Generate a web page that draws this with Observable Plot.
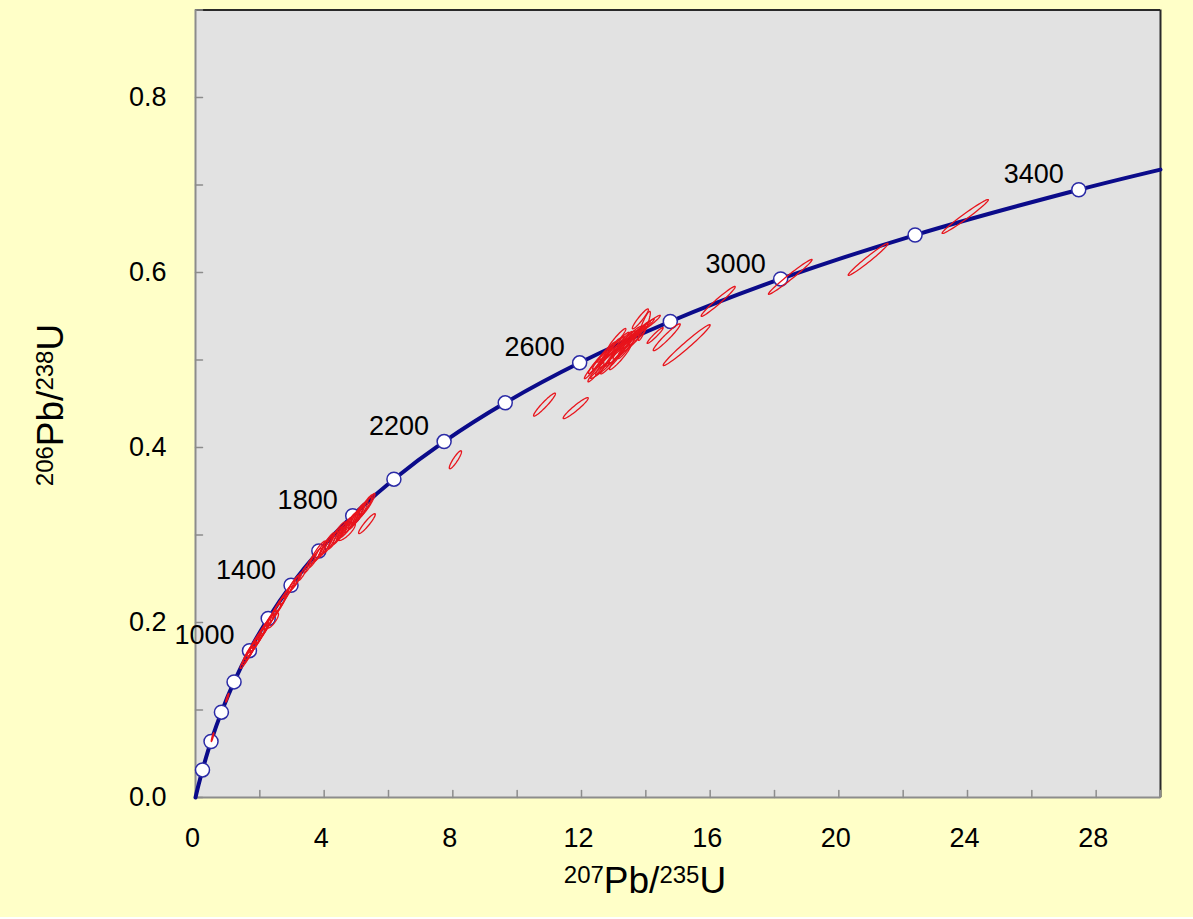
<!DOCTYPE html>
<html>
<head>
<meta charset="utf-8">
<script src="https://cdn.jsdelivr.net/npm/d3@7"></script>
<script src="https://cdn.jsdelivr.net/npm/@observablehq/plot@0.6"></script>
<style>
  body { margin: 0; background: #ffffff; }
  #chart svg { display: block; }
</style>
</head>
<body>
<div id="chart"></div>
<script>
// ---- Axis ticks ----
const xMajorTicks = [0, 4, 8, 12, 16, 20, 24, 28];
const xAllTicks = [0, 2, 4, 6, 8, 10, 12, 14, 16, 18, 20, 22, 24, 26, 28, 30];
const yMajorTicks = [0.0, 0.2, 0.4, 0.6, 0.8];
const yAllTicks = [0.0, 0.1, 0.2, 0.3, 0.4, 0.5, 0.6, 0.7, 0.8, 0.9];

// ---- Concordia curve (207Pb/235U, 206Pb/238U) ----
const curveX = [0, 0.1035, 0.2177, 0.4828, 0.8056, 1.1987, 1.6774, 2.2603, 2.9701, 3.8344, 4.8868, 6.1684, 7.7290, 9.629, 11.943, 14.761, 18.192, 22.371, 27.459, 30.0];
const curveY = [0, 0.01563, 0.03151, 0.06402, 0.09754, 0.13214, 0.16782, 0.20460, 0.24258, 0.28172, 0.32211, 0.36378, 0.40674, 0.45107, 0.49678, 0.54398, 0.59264, 0.64281, 0.69458, 0.7176];

// ---- Age markers (Ma) ----
const markerAge = [200, 400, 600, 800, 1000, 1200, 1400, 1600, 1800, 2000, 2200, 2400, 2600, 2800, 3000, 3200, 3400];
const markerX = [0.2177, 0.4828, 0.8056, 1.1987, 1.6774, 2.2603, 2.9701, 3.8344, 4.8868, 6.1684, 7.7290, 9.629, 11.943, 14.761, 18.192, 22.371, 27.459];
const markerY = [0.03151, 0.06402, 0.09754, 0.13214, 0.16782, 0.20460, 0.24258, 0.28172, 0.32211, 0.36378, 0.40674, 0.45107, 0.49678, 0.54398, 0.59264, 0.64281, 0.69458];
const labelAges = [1000, 1400, 1800, 2200, 2600, 3000, 3400];

// ---- Analyses: error ellipses (x, sx, y, sy, rho) ----
const ellX = [0.53, 0.99, 1.55, 1.63, 1.72, 1.80, 1.88, 1.96, 2.05, 2.14, 2.22, 2.39, 2.32, 2.45, 2.56, 2.68, 2.80, 2.95, 3.15, 3.35, 3.55, 3.72, 3.90, 4.05, 4.20, 4.35, 4.50, 4.62, 4.75, 4.88, 5.00, 5.12, 5.24, 5.36, 4.69, 5.33,
  1.68, 1.92, 2.10, 2.60, 3.05, 3.80, 4.10, 4.42, 4.80, 5.05, 5.28,
  8.08, 10.85, 11.82,
  12.34, 12.49, 12.65, 12.77, 12.90, 13.02, 13.14, 13.27, 13.39, 13.52, 13.67, 13.83, 13.98, 14.14, 13.21, 12.59, 12.96, 14.29, 13.39, 13.83, 13.95, 14.65, 15.27,
  13.05, 13.30, 13.10, 13.45, 12.85, 13.60, 12.70, 13.20, 13.75, 12.45,
  16.25, 18.49, 20.91, 23.93];
const ellSX = [0.04, 0.05, 0.16, 0.18, 0.18, 0.20, 0.19, 0.20, 0.21, 0.20, 0.21, 0.19, 0.19, 0.20, 0.21, 0.20, 0.18, 0.15, 0.15, 0.15, 0.18, 0.19, 0.21, 0.22, 0.22, 0.23, 0.22, 0.23, 0.24, 0.23, 0.24, 0.24, 0.23, 0.22, 0.28, 0.26,
  0.20, 0.22, 0.18, 0.20, 0.16, 0.24, 0.22, 0.26, 0.25, 0.22, 0.24,
  0.19, 0.34, 0.39,
  0.25, 0.28, 0.31, 0.28, 0.31, 0.31, 0.34, 0.31, 0.31, 0.34, 0.31, 0.31, 0.28, 0.31, 0.37, 0.31, 0.37, 0.25, 0.25, 0.25, 0.19, 0.42, 0.73,
  0.30, 0.32, 0.28, 0.30, 0.30, 0.28, 0.26, 0.33, 0.27, 0.25,
  0.53, 0.68, 0.62, 0.72];
const ellY = [0.069, 0.114, 0.157, 0.162, 0.168, 0.173, 0.177, 0.182, 0.187, 0.192, 0.197, 0.2023, 0.203, 0.210, 0.217, 0.224, 0.231, 0.239, 0.248, 0.257, 0.267, 0.274, 0.282, 0.287, 0.292, 0.297, 0.302, 0.307, 0.311, 0.316, 0.320, 0.325, 0.330, 0.335, 0.304, 0.313,
  0.166, 0.180, 0.191, 0.219, 0.244, 0.280, 0.290, 0.301, 0.313, 0.324, 0.333,
  0.386, 0.449, 0.445,
  0.490, 0.497, 0.502, 0.509, 0.511, 0.514, 0.518, 0.520, 0.522, 0.527, 0.529, 0.534, 0.538, 0.542, 0.511, 0.488, 0.499, 0.528, 0.513, 0.547, 0.539, 0.526, 0.517,
  0.506, 0.515, 0.524, 0.518, 0.504, 0.522, 0.495, 0.503, 0.527, 0.486,
  0.567, 0.595, 0.615, 0.664];
const ellSY = [0.005, 0.005, 0.0095, 0.0105, 0.0105, 0.0115, 0.0110, 0.0115, 0.0120, 0.0115, 0.0120, 0.0090, 0.0110, 0.0115, 0.0120, 0.0115, 0.0105, 0.0090, 0.0090, 0.0090, 0.0105, 0.0110, 0.0120, 0.0125, 0.0125, 0.0130, 0.0125, 0.0130, 0.0135, 0.0130, 0.0135, 0.0135, 0.0130, 0.0125, 0.0103, 0.0114,
  0.0115, 0.0125, 0.0105, 0.0115, 0.0095, 0.0130, 0.0125, 0.0140, 0.0135, 0.0125, 0.0130,
  0.0103, 0.0131, 0.0120,
  0.0114, 0.0126, 0.0126, 0.0114, 0.0137, 0.0126, 0.0137, 0.0126, 0.0114, 0.0114, 0.0103, 0.0103, 0.0091, 0.0091, 0.0160, 0.0091, 0.0149, 0.0091, 0.0114, 0.0114, 0.0166, 0.0154, 0.0234,
  0.0130, 0.0140, 0.0120, 0.0130, 0.0130, 0.0120, 0.0120, 0.0140, 0.0110, 0.0110,
  0.0171, 0.0200, 0.0183, 0.0194];
const ellRho = [0.90, 0.90, 0.93, 0.93, 0.93, 0.93, 0.93, 0.93, 0.93, 0.93, 0.93, 0.80, 0.93, 0.93, 0.93, 0.93, 0.93, 0.93, 0.93, 0.93, 0.93, 0.93, 0.93, 0.93, 0.93, 0.93, 0.93, 0.93, 0.93, 0.93, 0.93, 0.93, 0.93, 0.93, 0.80, 0.93,
  0.92, 0.92, 0.92, 0.92, 0.92, 0.92, 0.92, 0.90, 0.92, 0.92, 0.92,
  0.90, 0.95, 0.95,
  0.96, 0.96, 0.96, 0.96, 0.96, 0.96, 0.96, 0.96, 0.96, 0.96, 0.96, 0.96, 0.96, 0.96, 0.96, 0.96, 0.96, 0.96, 0.96, 0.94, 0.89, 0.96, 0.98,
  0.95, 0.95, 0.95, 0.95, 0.95, 0.95, 0.95, 0.95, 0.95, 0.95,
  0.975, 0.983, 0.98, 0.982];

// ---- Build tables for the library ----
const curve = curveX.map((x, i) => ({x, y: curveY[i]}));
const markers = markerAge.map((age, i) => ({age, x: markerX[i], y: markerY[i]}));
const labels = markers.filter(d => labelAges.includes(d.age));
const NSEG = 60;
const ellipseRows = ellX.flatMap((cx, i) =>
  d3.range(NSEG + 1).map(k => {
    const t = 2 * Math.PI * k / NSEG;
    const r = ellRho[i];
    return {
      id: i,
      x: cx + ellSX[i] * Math.cos(t),
      y: ellY[i] + ellSY[i] * (r * Math.cos(t) + Math.sqrt(1 - r * r) * Math.sin(t))
    };
  })
);

const tickShape = {draw(context, l) { context.moveTo(0, 0); context.lineTo(0, -l); }};
const FONT = "'Liberation Sans', Arial, sans-serif";

const chart = Plot.plot({
  width: 1193,
  height: 917,
  marginLeft: 195,
  marginRight: 33,
  marginTop: 9.5,
  marginBottom: 120,
  style: {background: "#ffffc8", fontFamily: FONT, color: "#000"},
  x: {domain: [0, 30], axis: null},
  y: {domain: [0, 0.9], axis: null},
  marks: [
    Plot.frame({fill: "#e2e2e2", stroke: null}),
    // borders
    Plot.ruleY([0.9], {stroke: "#2a2a2a", strokeWidth: 2}),
    Plot.ruleX([30], {stroke: "#2a2a2a", strokeWidth: 2}),
    Plot.ruleX([0], {stroke: "#8c8c8c", strokeWidth: 2}),
    Plot.ruleY([0], {stroke: "#8c8c8c", strokeWidth: 2}),
    // inward ticks
    Plot.vector(xAllTicks, {x: d => d, y: 0, length: 7, rotate: 0, anchor: "start", shape: tickShape, stroke: "#8c8c8c", strokeWidth: 1.5}),
    Plot.vector(yAllTicks, {x: 0, y: d => d, length: 7, rotate: 90, anchor: "start", shape: tickShape, stroke: "#8c8c8c", strokeWidth: 1.5}),
    // tick labels
    Plot.text(xMajorTicks, {x: d => d, y: 0, text: d => String(d), dy: 41, dx: -3, fontSize: 27, fill: "#000"}),
    Plot.text(yMajorTicks, {x: 0, y: d => d, text: d => d.toFixed(1), textAnchor: "end", dx: -29, fontSize: 27, fill: "#000"}),
    // concordia
    Plot.line(curve, {x: "x", y: "y", curve: "catmull-rom", stroke: "#0b0b8a", strokeWidth: 4}),
    Plot.dot(markers, {x: "x", y: "y", r: 7, fill: "#ffffff", stroke: "#2b2ba6", strokeWidth: 1.5}),
    // analyses
    Plot.line(ellipseRows, {x: "x", y: "y", z: "id", stroke: "#e8141c", strokeWidth: 1.3, curve: "linear"}),
    // age labels
    Plot.text(labels, {x: "x", y: "y", text: d => String(d.age), textAnchor: "end", dx: -15, dy: -15, fontSize: 27, fill: "#000"})
  ]
});

document.getElementById("chart").appendChild(chart);

// ---- Axis titles with superscripts ----
const svg = d3.select(chart);
function addLabel(g, sup1, main1, sup2, main2) {
  const t = g.append("text").attr("text-anchor", "middle").attr("font-family", FONT).attr("fill", "#000");
  t.append("tspan").attr("font-size", 24).attr("dy", -10).text(sup1);
  t.append("tspan").attr("font-size", 37).attr("dy", 10).text(main1);
  t.append("tspan").attr("font-size", 24).attr("dy", -10).text(sup2);
  t.append("tspan").attr("font-size", 37).attr("dy", 10).text(main2);
}
addLabel(svg.append("g").attr("transform", "translate(645,893)"), "207", "Pb/", "235", "U");
addLabel(svg.append("g").attr("transform", "translate(63,405) rotate(-90)"), "206", "Pb/", "238", "U");
</script>
</body>
</html>
